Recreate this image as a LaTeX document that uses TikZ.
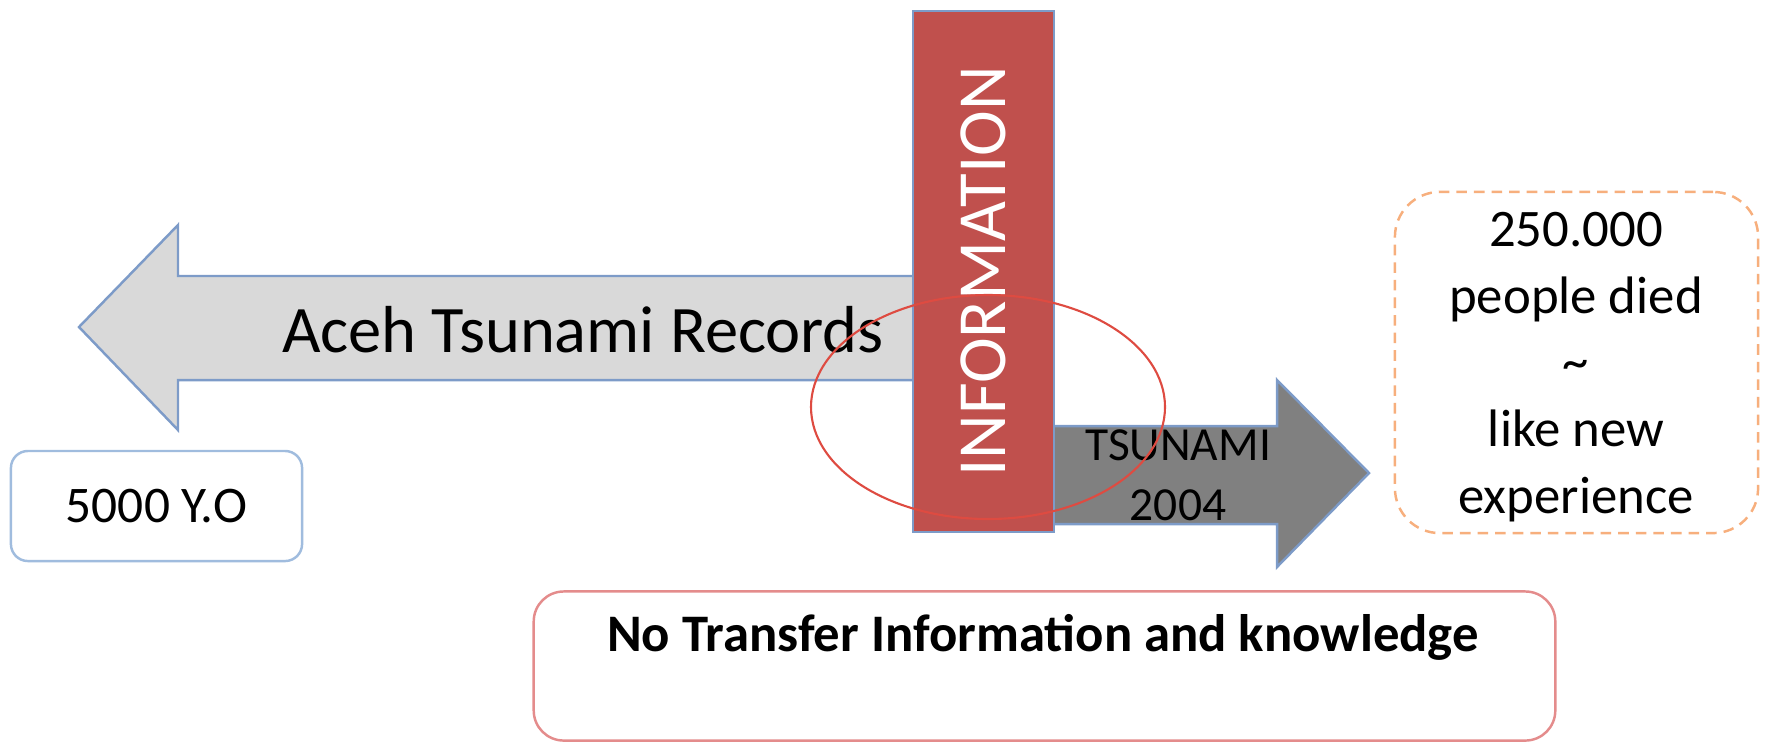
\documentclass[tikz,border=0pt]{standalone}
\usepackage{fontspec}
\setmainfont{Carlito}
\usetikzlibrary{positioning,shapes}
\definecolor{recgray}{RGB}{217,217,217}
\definecolor{edgeblue}{RGB}{125,155,200}
\definecolor{infored}{RGB}{192,80,77}
\definecolor{wavegray}{RGB}{128,128,128}
\definecolor{yoblue}{RGB}{160,188,222}
\definecolor{deadorange}{RGB}{247,175,125}
\definecolor{nopink}{RGB}{228,140,140}
\definecolor{ringred}{RGB}{222,75,65}

\begin{document}
\begin{tikzpicture}[x=0.01cm,y=-0.01cm,line width=0.7pt,
	txt/.style={align=center,inner sep=0pt},
	roundbox/.style={draw,rounded corners,fill=white,align=center}
	]
	\useasboundingbox (0,0) rectangle (1767,744);

	% Records arrow, back in time
	\draw[edgeblue,fill=recgray] (913,276) -- (178,276) -- (178,225) -- (79,327)
		-- (178,430) -- (178,380) -- (913,380);
	\node[txt,font=\fontsize{18.9}{22}\selectfont] (records) at (583,330) {Aceh Tsunami Records};

	\node[roundbox,draw=yoblue,rounded corners=0.17cm,
	minimum width=2.91cm,
	minimum height=1.1cm,
	font=\fontsize{14.6}{18}\selectfont
	] (age) at (156.5,506) {5000 Y.O};

	% Tsunami arrow
	\draw[edgeblue,fill=wavegray] (1054,426) -- (1277,426) -- (1277,380) -- (1369,473)
		-- (1277,567) -- (1277,524) -- (1054,524);
	\node[txt,font=\fontsize{13.5}{17}\selectfont] (tsunami) at (1178,475) {TSUNAMI\\2004};

	\node[draw=edgeblue,fill=infored,rotate=90,inner sep=0pt,
	minimum width=5.21cm,
	minimum height=1.41cm,
	text=white,
	font=\fontsize{19.6}{22}\selectfont
	] (info) at (983.5,271.5) {INFORMATION};

	\draw[ringred,line width=0.6pt] (988,407) ellipse [x radius=177, y radius=112];

	\node[roundbox,draw=deadorange,dash pattern=on 3pt off 2pt,rounded corners=0.45cm,
	minimum width=3.63cm,
	minimum height=3.41cm
	] (died) at (1576.5,362.5) {};
	\node[txt,font=\fontsize{15}{19}\selectfont] (diedtext) at (1576,367) {250.000\\people died\\\textasciitilde\\like new\\experience};

	\node[roundbox,draw=nopink,rounded corners=0.3cm,
	minimum width=10.21cm,
	minimum height=1.49cm
	] (notransfer) at (1044.5,666) {};
	\node[txt,font=\fontsize{15}{18}\selectfont\bfseries] (notext) at (1043,637) {No Transfer Information and knowledge};
\end{tikzpicture}
\end{document}
